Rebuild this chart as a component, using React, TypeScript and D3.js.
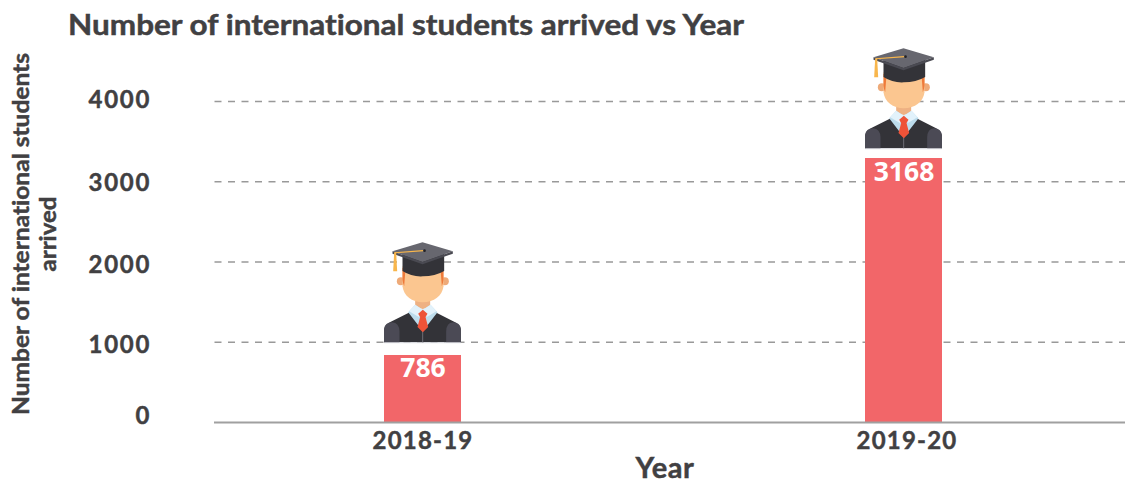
import React from "react";
import * as d3 from "d3";

const years = ["2018-19", "2019-20"];
const students = [786, 3168];
const gridTicks = [1000, 2000, 3000, 4000];
const axisTicks = [0, 1000, 2000, 3000, 4000];
const titleText = "Number of international students arrived vs Year";
const yTitleLines = ["Number of international students", "arrived"];
const xTitle = "Year";

const FONT = "Lato, sans-serif";
const INK = "#414042";
const tickLabelNudge: Record<number, number> = { 0: -6, 1000: 4, 2000: 4, 3000: 2, 4000: -1 };
const yearLabelNudge = [0.5, 3.5];
const yTitleLengths = [362, 75];

const y = d3.scaleLinear().domain([0, 4000]).range([422.5, 101.5]);
// bars and the figures above them sit on their own, slightly different scales in the source picture
const yBar = d3.scaleLinear().domain([0, 3168]).range([420, 158]);
const yFigure = d3.scaleLinear().domain([786, 3168]).range([343, 149]);
const x = d3.scaleBand().domain(years).range([182, 1144]);
const BAR_W = 77;

function Graduate({ cx, bottom }: { cx: number; bottom: number }) {
  // artwork described on a 3x grid, centred on x=157, bottom at y=340
  return (
    <g transform={`translate(${cx},${bottom}) scale(${1 / 3}) translate(-157,-340)`}>
      <circle cx={92} cy={155} r={12} fill="#eeaa78" />
      <circle cx={224} cy={155} r={12} fill="#eeaa78" />
      <path d="M135 190H180V228Q158 248 135 228Z" fill="#eeb183" />
      <path d="M97 110V170C100 198 125 218 158 218C191 218 217 198 220 170V110Z" fill="#fbc690" />
      <path d="M97 115L106 118L102 170Q98 160 97 150ZM220 115L211 118L215 170Q219 160 220 150Z" fill="#ee7a3a" />
      <path d="M42 338V298Q44 284 62 276L125 245L157 300L190 245L252 276Q270 284 272 298V338Z" fill="#333338" />
      <path d="M42 340V298Q44 278 66 278Q87 280 88 305V340ZM272 340V298Q270 278 248 278Q229 280 228 305V340Z" fill="#4b4a55" />
      <path d="M42 338H272V341H42Z" fill="#dfe1e6" />
      <path d="M156 300H159V338H156Z" fill="#6d6d76" />
      <path d="M135 225L158 240L181 225L202 248L158 305L114 248Z" fill="#bcdcec" />
      <path d="M135 225L158 240L146 262L117 245ZM181 225L158 240L170 262L199 245Z" fill="#e2f2fb" />
      <path d="M158 240L172 252L166 262L174 292L158 308L142 292L150 262L144 252Z" fill="#ee5338" />
      <path d="M97 72V124Q125 142 158 140Q195 140 222 124V72Z" fill="#333338" />
      <path d="M157 38L248 65L157 97L67 65Z" fill="#67676f" />
      <path d="M67 65L157 97L248 65V72L157 104L67 72Z" fill="#4a4a52" />
      <path d="M73 68L160 61V65L76 71Z" fill="#f8b64c" />
      <path d="M72 68H78L81 125H69Z" fill="#f8b64c" />
      <circle cx={163} cy={63} r={4} fill="#222226" />
    </g>
  );
}

export default function App() {
  const baseline = y(0);
  const heavy = { stroke: INK, strokeWidth: 0.45, fontVariantLigatures: "none" } as const;
  return (
    <svg width={1125} height={480} style={{ position: "absolute", left: 0, top: 0, background: "#fff" }} fontFamily={FONT}>
      <text x={68} y={35} fontSize={28} fontWeight={700} fill={INK} textLength={676} lengthAdjust="spacingAndGlyphs" style={heavy}>{titleText}</text>

      {gridTicks.map((t) => (
        <line key={t} x1={214.5} x2={1125} y1={y(t)} y2={y(t)} stroke="#999" strokeWidth={1.3} strokeDasharray="7 6.5" />
      ))}

      {axisTicks.map((t) => (
        <text key={t} x={151} y={y(t) + 7 + tickLabelNudge[t]} textAnchor="end" fontSize={24} fontWeight={700} fill={INK} letterSpacing={1.7} style={heavy}>{t}</text>
      ))}

      {years.map((yr, i) => {
        const cx = x(yr)! + x.bandwidth() / 2;
        const top = yBar(students[i]);
        return (
          <g key={yr}>
            <rect x={cx - BAR_W / 2} y={top} width={BAR_W} height={baseline - top} fill="#f26669" />
            <text x={cx + 0.5} y={top + 22.5} textAnchor="middle" fontFamily="'Open Sans', sans-serif" fontSize={26.5} fontWeight={700} fill="#fff">{students[i]}</text>
            <Graduate cx={cx} bottom={yFigure(students[i])} />
            <text x={cx + yearLabelNudge[i]} y={449} textAnchor="middle" fontSize={24} fontWeight={700} fill={INK} letterSpacing={1.2} style={heavy}>{yr}</text>
          </g>
        );
      })}

      <line x1={214} x2={1125} y1={baseline} y2={baseline} stroke="#a0a0a0" strokeWidth={2} />

      <text x={665} y={478} textAnchor="middle" fontSize={29} fontWeight={700} fill={INK} letterSpacing={0.6} style={heavy}>{xTitle}</text>

      {yTitleLines.map((l, i) => (
        <text key={l} transform={`translate(${29 + i * 27},234) rotate(-90)`} textAnchor="middle" fontSize={22} fontWeight={700} fill={INK} textLength={yTitleLengths[i]} lengthAdjust="spacingAndGlyphs" style={heavy}>{l}</text>
      ))}
    </svg>
  );
}
